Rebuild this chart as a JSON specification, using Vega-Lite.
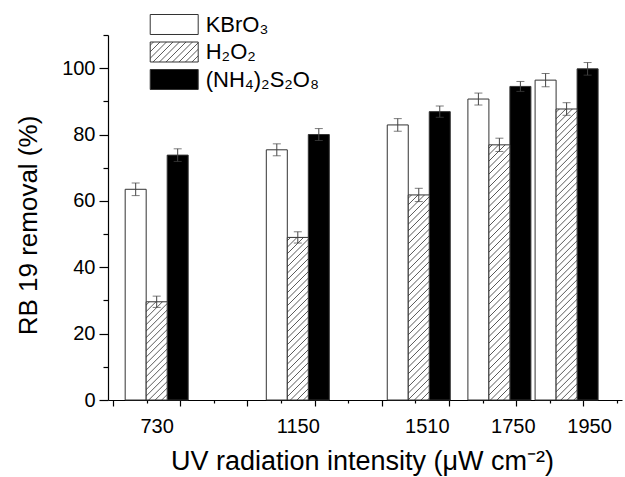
{
  "$schema": "https://vega.github.io/schema/vega-lite/v6.json",
  "width": 514,
  "height": 365,
  "autosize": {"type": "none"},
  "padding": {"left": 108, "top": 35, "right": 3, "bottom": 77},
  "background": "white",
  "config": {
    "view": {"stroke": null},
    "font": "Liberation Sans",
    "axis": {
      "grid": false, "domainColor": "black", "tickColor": "black", "labelColor": "black", "titleColor": "black",
      "labelFont": "Liberation Sans", "titleFont": "Liberation Sans", "labelFontSize": 20, "titleFontSize": 26,
      "titleFontWeight": "normal", "domainWidth": 1.2, "tickWidth": 1.2, "labelOverlap": false, "labelFlush": false
    }
  },
  "params": [{"name": "hatch", "value": [
    {"offset":0.007,"color":"#fff"},{"offset":0.01,"color":"#555"},{"offset":0.013,"color":"#fff"},
    {"offset":0.027,"color":"#fff"},{"offset":0.03,"color":"#555"},{"offset":0.033,"color":"#fff"},
    {"offset":0.047,"color":"#fff"},{"offset":0.05,"color":"#555"},{"offset":0.053,"color":"#fff"},
    {"offset":0.067,"color":"#fff"},{"offset":0.07,"color":"#555"},{"offset":0.073,"color":"#fff"},
    {"offset":0.087,"color":"#fff"},{"offset":0.09,"color":"#555"},{"offset":0.093,"color":"#fff"},
    {"offset":0.107,"color":"#fff"},{"offset":0.11,"color":"#555"},{"offset":0.113,"color":"#fff"},
    {"offset":0.127,"color":"#fff"},{"offset":0.13,"color":"#555"},{"offset":0.133,"color":"#fff"},
    {"offset":0.147,"color":"#fff"},{"offset":0.15,"color":"#555"},{"offset":0.153,"color":"#fff"},
    {"offset":0.167,"color":"#fff"},{"offset":0.17,"color":"#555"},{"offset":0.173,"color":"#fff"},
    {"offset":0.187,"color":"#fff"},{"offset":0.19,"color":"#555"},{"offset":0.193,"color":"#fff"},
    {"offset":0.207,"color":"#fff"},{"offset":0.21,"color":"#555"},{"offset":0.213,"color":"#fff"},
    {"offset":0.227,"color":"#fff"},{"offset":0.23,"color":"#555"},{"offset":0.233,"color":"#fff"},
    {"offset":0.247,"color":"#fff"},{"offset":0.25,"color":"#555"},{"offset":0.253,"color":"#fff"},
    {"offset":0.267,"color":"#fff"},{"offset":0.27,"color":"#555"},{"offset":0.273,"color":"#fff"},
    {"offset":0.287,"color":"#fff"},{"offset":0.29,"color":"#555"},{"offset":0.293,"color":"#fff"},
    {"offset":0.307,"color":"#fff"},{"offset":0.31,"color":"#555"},{"offset":0.313,"color":"#fff"},
    {"offset":0.327,"color":"#fff"},{"offset":0.33,"color":"#555"},{"offset":0.333,"color":"#fff"},
    {"offset":0.347,"color":"#fff"},{"offset":0.35,"color":"#555"},{"offset":0.353,"color":"#fff"},
    {"offset":0.367,"color":"#fff"},{"offset":0.37,"color":"#555"},{"offset":0.373,"color":"#fff"},
    {"offset":0.387,"color":"#fff"},{"offset":0.39,"color":"#555"},{"offset":0.393,"color":"#fff"},
    {"offset":0.407,"color":"#fff"},{"offset":0.41,"color":"#555"},{"offset":0.413,"color":"#fff"},
    {"offset":0.427,"color":"#fff"},{"offset":0.43,"color":"#555"},{"offset":0.433,"color":"#fff"},
    {"offset":0.447,"color":"#fff"},{"offset":0.45,"color":"#555"},{"offset":0.453,"color":"#fff"},
    {"offset":0.467,"color":"#fff"},{"offset":0.47,"color":"#555"},{"offset":0.473,"color":"#fff"},
    {"offset":0.487,"color":"#fff"},{"offset":0.49,"color":"#555"},{"offset":0.493,"color":"#fff"},
    {"offset":0.507,"color":"#fff"},{"offset":0.51,"color":"#555"},{"offset":0.513,"color":"#fff"},
    {"offset":0.527,"color":"#fff"},{"offset":0.53,"color":"#555"},{"offset":0.533,"color":"#fff"},
    {"offset":0.547,"color":"#fff"},{"offset":0.55,"color":"#555"},{"offset":0.553,"color":"#fff"},
    {"offset":0.567,"color":"#fff"},{"offset":0.57,"color":"#555"},{"offset":0.573,"color":"#fff"},
    {"offset":0.587,"color":"#fff"},{"offset":0.59,"color":"#555"},{"offset":0.593,"color":"#fff"},
    {"offset":0.607,"color":"#fff"},{"offset":0.61,"color":"#555"},{"offset":0.613,"color":"#fff"},
    {"offset":0.627,"color":"#fff"},{"offset":0.63,"color":"#555"},{"offset":0.633,"color":"#fff"},
    {"offset":0.647,"color":"#fff"},{"offset":0.65,"color":"#555"},{"offset":0.653,"color":"#fff"},
    {"offset":0.667,"color":"#fff"},{"offset":0.67,"color":"#555"},{"offset":0.673,"color":"#fff"},
    {"offset":0.687,"color":"#fff"},{"offset":0.69,"color":"#555"},{"offset":0.693,"color":"#fff"},
    {"offset":0.707,"color":"#fff"},{"offset":0.71,"color":"#555"},{"offset":0.713,"color":"#fff"},
    {"offset":0.727,"color":"#fff"},{"offset":0.73,"color":"#555"},{"offset":0.733,"color":"#fff"},
    {"offset":0.747,"color":"#fff"},{"offset":0.75,"color":"#555"},{"offset":0.753,"color":"#fff"},
    {"offset":0.767,"color":"#fff"},{"offset":0.77,"color":"#555"},{"offset":0.773,"color":"#fff"},
    {"offset":0.787,"color":"#fff"},{"offset":0.79,"color":"#555"},{"offset":0.793,"color":"#fff"},
    {"offset":0.807,"color":"#fff"},{"offset":0.81,"color":"#555"},{"offset":0.813,"color":"#fff"},
    {"offset":0.827,"color":"#fff"},{"offset":0.83,"color":"#555"},{"offset":0.833,"color":"#fff"},
    {"offset":0.847,"color":"#fff"},{"offset":0.85,"color":"#555"},{"offset":0.853,"color":"#fff"},
    {"offset":0.867,"color":"#fff"},{"offset":0.87,"color":"#555"},{"offset":0.873,"color":"#fff"},
    {"offset":0.887,"color":"#fff"},{"offset":0.89,"color":"#555"},{"offset":0.893,"color":"#fff"},
    {"offset":0.907,"color":"#fff"},{"offset":0.91,"color":"#555"},{"offset":0.913,"color":"#fff"},
    {"offset":0.927,"color":"#fff"},{"offset":0.93,"color":"#555"},{"offset":0.933,"color":"#fff"},
    {"offset":0.947,"color":"#fff"},{"offset":0.95,"color":"#555"},{"offset":0.953,"color":"#fff"},
    {"offset":0.967,"color":"#fff"},{"offset":0.97,"color":"#555"},{"offset":0.973,"color":"#fff"},
    {"offset":0.987,"color":"#fff"},{"offset":0.99,"color":"#555"},{"offset":0.993,"color":"#fff"}
  ]}],
  "data": {"values": [
    {"intensity": 730, "reagent": "KBrO₃", "removal": 63.5, "err": 1.9},
    {"intensity": 730, "reagent": "H₂O₂", "removal": 29.6, "err": 1.7},
    {"intensity": 730, "reagent": "(NH₄)₂S₂O₈", "removal": 73.8, "err": 1.9},
    {"intensity": 1150, "reagent": "KBrO₃", "removal": 75.4, "err": 1.8},
    {"intensity": 1150, "reagent": "H₂O₂", "removal": 49.0, "err": 1.7},
    {"intensity": 1150, "reagent": "(NH₄)₂S₂O₈", "removal": 80.0, "err": 1.8},
    {"intensity": 1510, "reagent": "KBrO₃", "removal": 82.9, "err": 1.9},
    {"intensity": 1510, "reagent": "H₂O₂", "removal": 61.8, "err": 2.0},
    {"intensity": 1510, "reagent": "(NH₄)₂S₂O₈", "removal": 86.9, "err": 1.7},
    {"intensity": 1750, "reagent": "KBrO₃", "removal": 90.7, "err": 1.8},
    {"intensity": 1750, "reagent": "H₂O₂", "removal": 76.9, "err": 2.0},
    {"intensity": 1750, "reagent": "(NH₄)₂S₂O₈", "removal": 94.5, "err": 1.5},
    {"intensity": 1950, "reagent": "KBrO₃", "removal": 96.4, "err": 2.0},
    {"intensity": 1950, "reagent": "H₂O₂", "removal": 87.7, "err": 1.9},
    {"intensity": 1950, "reagent": "(NH₄)₂S₂O₈", "removal": 99.8, "err": 1.9}
  ]},
  "resolve": {"axis": {"x": "independent", "y": "independent"}},
  "layer": [
    {
      "transform": [{"filter": {"field": "reagent", "equal": "KBrO₃"}}],
      "mark": {"type": "bar", "orient": "vertical", "width": 21, "xOffset": -21, "stroke": "#333", "strokeWidth": 1},
      "encoding": {
        "x": {"field": "intensity", "type": "quantitative", "scale": {"domain": [600, 2100], "nice": false, "zero": false},
          "axis": {"orient": "bottom", "values": [730, 1150, 1534, 1790, 2017], "ticks": false, "tickSize": 0, "domain": false,
            "labelPadding": 16,
            "labelExpr": "datum.value < 800 ? '730' : datum.value < 1200 ? '1150' : datum.value < 1600 ? '1510' : datum.value < 1900 ? '1750' : '1950'",
            "title": "UV radiation intensity (μW cm⁻²)", "titleFontSize": 27, "titleBaseline": "alphabetic", "titleY": 69, "titleX": 254}},
        "y": {"field": "removal", "type": "quantitative", "scale": {"domain": [0, 110], "nice": false},
          "axis": {"orient": "left", "values": [0, 20, 40, 60, 80, 100], "tickSize": 9, "labelPadding": 4,
            "title": "RB 19 removal (%)", "titleBaseline": "alphabetic", "titleX": -72, "titleY": 190}},
        "fill": {"field": "reagent", "type": "nominal",
          "scale": {"domain": ["KBrO₃", "H₂O₂", "(NH₄)₂S₂O₈"],
            "range": ["white", {"expr": "{gradient:'linear',x1:0,y1:0,x2:5.769,y2:2.4038,stops:hatch}"}, "black"]},
          "legend": {"title": null, "orient": "none", "legendX": 51.7, "legendY": -25, "padding": 0,
            "symbolType": "M-1.714,-0.714H1.714V0.714H-1.714Z", "symbolSize": 784, "symbolOffset": 0,
            "symbolStrokeColor": "black", "symbolStrokeWidth": 1, "labelFontSize": 22, "labelFont": "Liberation Sans",
            "labelColor": "black", "labelOffset": 17, "rowPadding": 0.5}}
      }
    },
    {
      "transform": [{"filter": {"field": "reagent", "equal": "(NH₄)₂S₂O₈"}}],
      "mark": {"type": "bar", "orient": "vertical", "width": 21, "xOffset": 21, "stroke": "#333", "strokeWidth": 1},
      "encoding": {
        "x": {"field": "intensity", "type": "quantitative",
          "axis": {"orient": "bottom", "values": [600, 800, 1000, 1200, 1400, 1600, 1800, 2000], "tickSize": 6, "labels": false, "title": null}},
        "y": {"field": "removal", "type": "quantitative",
          "axis": {"orient": "left", "values": [10, 30, 50, 70, 90, 110], "tickSize": 5, "labels": false, "domain": false, "title": null}},
        "fill": {"field": "reagent", "type": "nominal",
          "scale": {"domain": ["KBrO₃", "H₂O₂", "(NH₄)₂S₂O₈"],
            "range": ["white", {"expr": "{gradient:'linear',x1:0,y1:0,x2:5.769,y2:2.4038,stops:hatch}"}, "black"]}}
      }
    },
    {
      "transform": [{"filter": {"and": [{"field": "reagent", "equal": "H₂O₂"}, {"field": "intensity", "equal": 730}]}}],
      "mark": {"type": "bar", "orient": "vertical", "width": 21, "stroke": "#333", "strokeWidth": 1,
        "fill": {"expr": "{gradient:'linear',x1:0,y1:0,x2:0.6766,y2:3.1643,stops:hatch}"}},
      "encoding": {
        "x": {"field": "intensity", "type": "quantitative",
          "axis": {"orient": "bottom", "values": [700, 900, 1100, 1300, 1500, 1700, 1900, 2100], "tickSize": 3, "labels": false, "domain": false, "title": null}},
        "y": {"field": "removal", "type": "quantitative", "axis": null}
      }
    },
    {
      "transform": [{"filter": {"and": [{"field": "reagent", "equal": "H₂O₂"}, {"field": "intensity", "equal": 1150}]}}],
      "mark": {"type": "bar", "orient": "vertical", "width": 21, "stroke": "#333", "strokeWidth": 1,
        "fill": {"expr": "{gradient:'linear',x1:0,y1:0,x2:0.25394,y2:1.9661,stops:hatch}"}},
      "encoding": {
        "x": {"field": "intensity", "type": "quantitative", "axis": null},
        "y": {"field": "removal", "type": "quantitative", "axis": null}
      }
    },
    {
      "transform": [{"filter": {"and": [{"field": "reagent", "equal": "H₂O₂"}, {"field": "intensity", "equal": 1510}]}}],
      "mark": {"type": "bar", "orient": "vertical", "width": 21, "stroke": "#333", "strokeWidth": 1,
        "fill": {"expr": "{gradient:'linear',x1:0,y1:0,x2:0.16062,y2:1.5684,stops:hatch}"}},
      "encoding": {
        "x": {"field": "intensity", "type": "quantitative", "axis": null},
        "y": {"field": "removal", "type": "quantitative", "axis": null}
      }
    },
    {
      "transform": [{"filter": {"and": [{"field": "reagent", "equal": "H₂O₂"}, {"field": "intensity", "equal": 1750}]}}],
      "mark": {"type": "bar", "orient": "vertical", "width": 21, "stroke": "#333", "strokeWidth": 1,
        "fill": {"expr": "{gradient:'linear',x1:0,y1:0,x2:0.10411,y2:1.2651,stops:hatch}"}},
      "encoding": {
        "x": {"field": "intensity", "type": "quantitative", "axis": null},
        "y": {"field": "removal", "type": "quantitative", "axis": null}
      }
    },
    {
      "transform": [{"filter": {"and": [{"field": "reagent", "equal": "H₂O₂"}, {"field": "intensity", "equal": 1950}]}}],
      "mark": {"type": "bar", "orient": "vertical", "width": 21, "stroke": "#333", "strokeWidth": 1,
        "fill": {"expr": "{gradient:'linear',x1:0,y1:0,x2:0.08017,y2:1.1110,stops:hatch}"}},
      "encoding": {
        "x": {"field": "intensity", "type": "quantitative", "axis": null},
        "y": {"field": "removal", "type": "quantitative", "axis": null}
      }
    },
    {
      "transform": [{"filter": {"field": "reagent", "equal": "KBrO₃"}}],
      "mark": {"type": "errorbar", "ticks": {"size": 8, "xOffset": -21, "color": "#444"}, "rule": {"xOffset": -21, "color": "#444"}},
      "encoding": {
        "x": {"field": "intensity", "type": "quantitative", "axis": null},
        "y": {"field": "removal", "type": "quantitative", "axis": null},
        "yError": {"field": "err"}
      }
    },
    {
      "transform": [{"filter": {"field": "reagent", "equal": "H₂O₂"}}],
      "mark": {"type": "errorbar", "ticks": {"size": 8, "color": "#444"}, "rule": {"color": "#444"}},
      "encoding": {
        "x": {"field": "intensity", "type": "quantitative", "axis": null},
        "y": {"field": "removal", "type": "quantitative", "axis": null},
        "yError": {"field": "err"}
      }
    },
    {
      "transform": [{"filter": {"field": "reagent", "equal": "(NH₄)₂S₂O₈"}}],
      "mark": {"type": "errorbar", "ticks": {"size": 8, "xOffset": 21, "color": "#444"}, "rule": {"xOffset": 21, "color": "#444"}},
      "encoding": {
        "x": {"field": "intensity", "type": "quantitative", "axis": null},
        "y": {"field": "removal", "type": "quantitative", "axis": null},
        "yError": {"field": "err"}
      }
    }
  ]
}
